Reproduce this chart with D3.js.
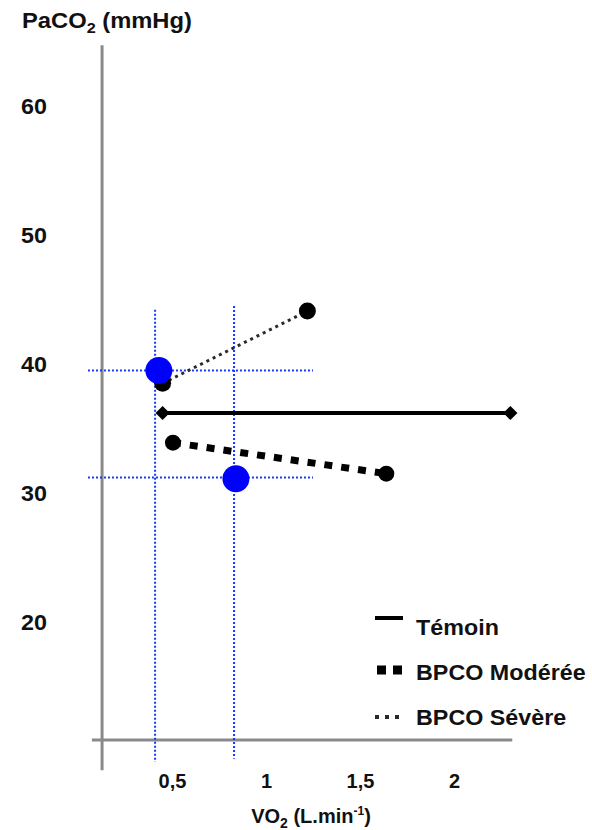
<!DOCTYPE html>
<html><head><meta charset="utf-8">
<script src="https://cdn.jsdelivr.net/npm/d3@7"></script>
<style>
html,body{margin:0;padding:0;background:#fff;}
svg{display:block;}
text{font-family:"Liberation Sans",Arial,sans-serif;font-weight:bold;fill:#111;}
</style></head>
<body>
<svg id="chart" width="592" height="830"></svg>
<script>
// ---- data ----
const xTicks = [0.5, 1, 1.5, 2];
const xTickLabels = ["0,5", "1", "1,5", "2"];
const yTicks = [20, 30, 40, 50, 60];
const seriesNames = ["Témoin", "BPCO Modérée", "BPCO Sévère"];
const temoin = [[0.45, 36.2], [2.30, 36.2]];
const moderee = [[0.505, 33.9], [1.64, 31.5]];
const severe = [[0.45, 38.5], [1.22, 44.1]];
const highlightPoints = [[0.43, 39.5], [0.84, 31.1]];
const guideX = [[0.41, 44.2, 9.15], [0.83, 44.5, 9.4]];   // x, yTop, yBottom
const guideY = [[39.5, 0.053, 1.25], [31.2, 0.053, 1.25]]; // y, xLeft, xRight
const axisCross = {x: 0.128, y: 10.85, xMin: 0.074, xMax: 2.31, yMin: 8.5, yMax: 64.7};

// ---- scales ----
const x = d3.scaleLinear().domain([0.5, 2]).range([172, 454]);
const y = d3.scaleLinear().domain([20, 60]).range([622, 106]);
const svg = d3.select("#chart");

// axes lines
svg.append("line").attr("x1", x(axisCross.x)).attr("x2", x(axisCross.x))
  .attr("y1", y(axisCross.yMax)).attr("y2", y(axisCross.yMin))
  .attr("stroke", "#8a8a8a").attr("stroke-width", 3);
svg.append("line").attr("x1", x(axisCross.xMin)).attr("x2", x(axisCross.xMax))
  .attr("y1", y(axisCross.y)).attr("y2", y(axisCross.y))
  .attr("stroke", "#8a8a8a").attr("stroke-width", 3);

// tick labels via d3 axes
const yAxis = d3.axisLeft(y).tickValues(yTicks).tickSize(0).tickPadding(0).tickFormat(d3.format("d"));
const gy = svg.append("g").attr("transform", "translate(47,0)").call(yAxis);
gy.select(".domain").remove();
gy.selectAll("text").attr("font-size", 22).attr("font-family", null).attr("fill", "#111")
  .attr("x", 0).attr("dy", "0.36em").attr("transform", "scale(1.06,1)");

const xAxis = d3.axisBottom(x).tickValues(xTicks).tickSize(0).tickPadding(0)
  .tickFormat((d, i) => xTickLabels[i]);
const gx = svg.append("g").attr("transform", "translate(0,788)").call(xAxis);
gx.select(".domain").remove();
gx.selectAll("text").attr("font-size", 20).attr("font-family", null).attr("fill", "#111").attr("dy", 0);

// axis titles
const yt = svg.append("text").attr("transform", "translate(22,28) scale(1.08,1)").attr("font-size", 22);
yt.append("tspan").text("PaCO");
yt.append("tspan").text("2").attr("font-size", 15).attr("dy", 5);
yt.append("tspan").text(" (mmHg)").attr("dy", -5);

const xt = svg.append("text").attr("x", 311).attr("y", 823).attr("font-size", 20).attr("text-anchor", "middle");
xt.append("tspan").text("VO");
xt.append("tspan").text("2").attr("font-size", 14).attr("dy", 5);
xt.append("tspan").text(" (L.min").attr("dy", -5);
xt.append("tspan").text("-1").attr("font-size", 12).attr("dy", -8);
xt.append("tspan").text(")").attr("dy", 8);

// guide lines (blue dotted)
const blue = "#1438ff";
svg.selectAll(".gx").data(guideX).enter().append("line")
  .attr("x1", d => x(d[0])).attr("x2", d => x(d[0]))
  .attr("y1", d => y(d[1])).attr("y2", d => y(d[2]))
  .attr("stroke", blue).attr("stroke-width", 2).attr("stroke-dasharray", "2,2");
svg.selectAll(".gy").data(guideY).enter().append("line")
  .attr("x1", d => x(d[1])).attr("x2", d => x(d[2]))
  .attr("y1", d => y(d[0])).attr("y2", d => y(d[0]))
  .attr("stroke", blue).attr("stroke-width", 2).attr("stroke-dasharray", "2,2");

const line = d3.line().x(d => x(d[0])).y(d => y(d[1]));

// Témoin
svg.append("path").attr("d", line(temoin)).attr("fill", "none").attr("stroke", "#000").attr("stroke-width", 4);
svg.selectAll(".dm").data(temoin).enter().append("path")
  .attr("d", d3.symbol().type(d3.symbolSquare).size(100))
  .attr("transform", d => `translate(${x(d[0])},${y(d[1])}) rotate(45)`).attr("fill", "#000");

// Modérée
svg.append("path").attr("d", line(moderee)).attr("fill", "none").attr("stroke", "#000")
  .attr("stroke-width", 7).attr("stroke-dasharray", "8,9");
svg.selectAll(".mo").data(moderee).enter().append("circle")
  .attr("cx", d => x(d[0])).attr("cy", d => y(d[1])).attr("r", 8).attr("fill", "#000");

// Sévère
svg.append("path").attr("d", line(severe)).attr("fill", "none").attr("stroke", "#2a2a2a")
  .attr("stroke-width", 3).attr("stroke-dasharray", "3,4");
svg.selectAll(".se").data(severe).enter().append("circle")
  .attr("cx", d => x(d[0])).attr("cy", d => y(d[1])).attr("r", 8.5).attr("fill", "#000");

// highlight points
svg.selectAll(".hp").data(highlightPoints).enter().append("circle")
  .attr("cx", d => x(d[0])).attr("cy", d => y(d[1])).attr("r", 13.5).attr("fill", "#0000ff");

// legend
const lg = svg.append("g");
const rows = [
  {name: seriesNames[0], ty: 635, sy: 618, x1: 375, w: 4, dash: null, c: "#000"},
  {name: seriesNames[1], ty: 680, sy: 670, x1: 377, w: 9, dash: "9,7", c: "#000"},
  {name: seriesNames[2], ty: 725, sy: 717, x1: 375, w: 4, dash: "4,6", c: "#2a2a2a"}
];
rows.forEach(r => {
  const l = lg.append("line").attr("x1", r.x1).attr("x2", 403)
    .attr("y1", r.sy).attr("y2", r.sy).attr("stroke", r.c).attr("stroke-width", r.w);
  if (r.dash) l.attr("stroke-dasharray", r.dash);
  lg.append("text").attr("transform", `translate(416,${r.ty}) scale(1.06,1)`).attr("font-size", 22).text(r.name);
});
</script>
</body></html>
